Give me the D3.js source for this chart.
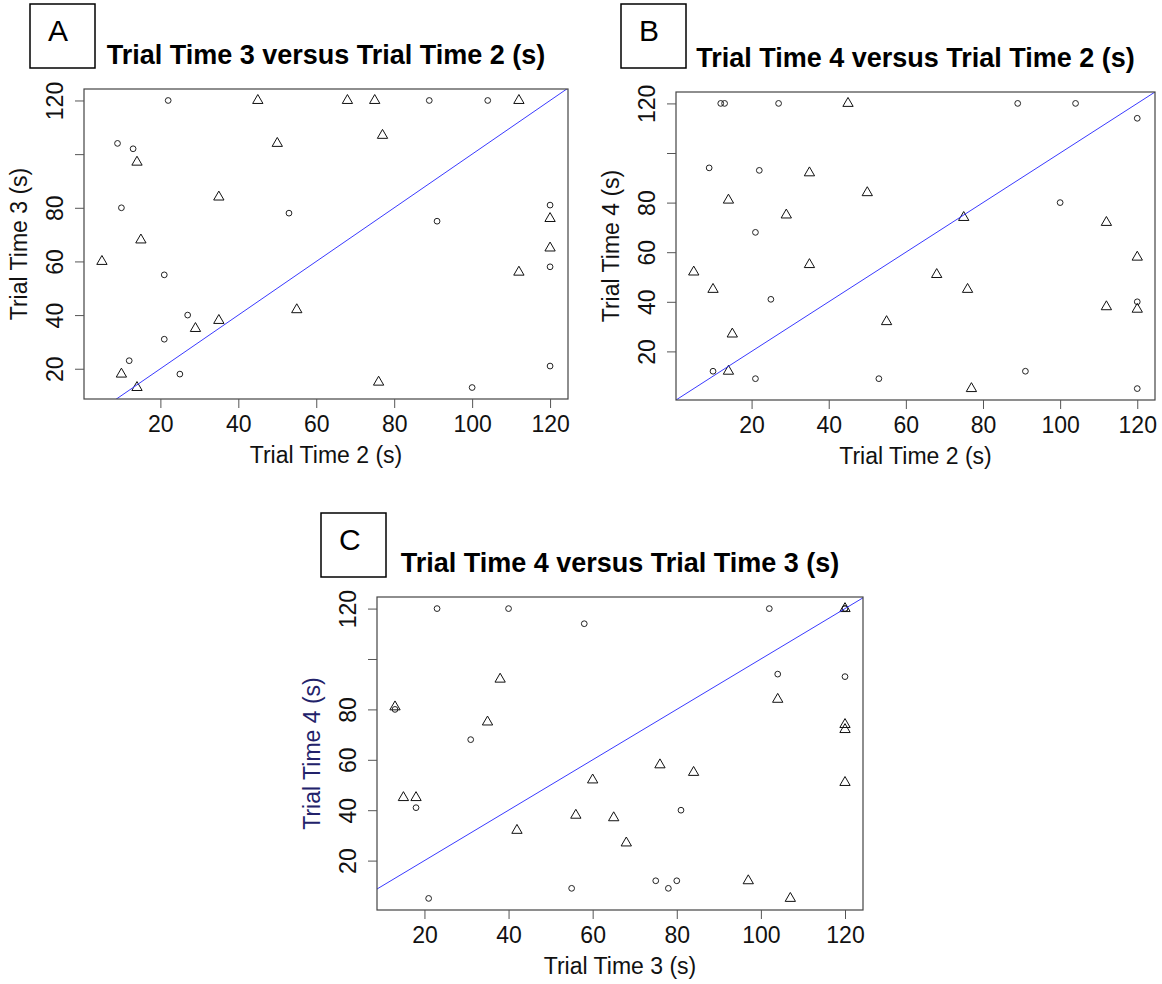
<!DOCTYPE html>
<html>
<head>
<meta charset="utf-8">
<script src="https://cdn.jsdelivr.net/npm/d3@7"></script>
<style>
  body { margin: 0; background: #fff; }
  svg { font-family: "Liberation Sans", Arial, sans-serif; }
</style>
</head>
<body>
<svg id="chart" width="1162" height="984"></svg>
<script>
// Trial times (s), one entry per subject. Group drawn with circles:
const circleTrial2 = [9, 10, 12, 13, 22, 25, 27, 53, 89, 91, 100, 104, 21, 21, 120, 120, 120];
const circleTrial3 = [104, 80, 23, 102, 120, 18, 40, 78, 120, 75, 13, 120, 31, 55, 58, 81, 21];
const circleTrial4 = [94, 12, 120, 120, 93, 41, 120, 9, 120, 12, 80, 120, 68, 9, 114, 40, 5];

// Group drawn with triangles:
const triTrial2 = [5, 10, 15, 29, 45, 50, 55, 68, 75, 76, 77, 14, 14, 35, 35, 112, 112, 120, 120];
const triTrial3 = [60, 18, 68, 35, 120, 104, 42, 120, 120, 15, 107, 13, 97, 38, 84, 120, 56, 76, 65];
const triTrial4 = [52, 45, 27, 75, 120, 84, 32, 51, 74, 45, 5, 81, 12, 92, 55, 72, 38, 58, 37];

const tickValues = [20, 40, 60, 80, 100, 120];
const yTickLabels = [20, 40, 60, 80, 120];   // "100" is dropped on the y axis (no room)

const circles = {2: circleTrial2, 3: circleTrial3, 4: circleTrial4};
const triangles = {2: triTrial2, 3: triTrial3, 4: triTrial4};

const panels = [
    {letter: "A", title: "Trial Time 3 versus Trial Time 2 (s)", xLab: "Trial Time 2 (s)", yLab: "Trial Time 3 (s)",
     xKey: 2, yKey: 3, plot: {x: 84, y: 89, w: 484, h: 310}, box: {x: 30, y: 4}, yLabColor: "#111"},
    {letter: "B", title: "Trial Time 4 versus Trial Time 2 (s)", xLab: "Trial Time 2 (s)", yLab: "Trial Time 4 (s)",
     xKey: 2, yKey: 4, plot: {x: 676, y: 92, w: 479, h: 308}, box: {x: 621, y: 4}, yLabColor: "#111"},
    {letter: "C", title: "Trial Time 4 versus Trial Time 3 (s)", xLab: "Trial Time 3 (s)", yLab: "Trial Time 4 (s)",
     xKey: 3, yKey: 4, plot: {x: 377, y: 597, w: 486, h: 313}, box: {x: 321, y: 513}, yLabColor: "#22226a"}
];

// like R's default axis range: data extent widened by 4% each side
let pad = ([lo, hi]) => [lo - 0.04 * (hi - lo), hi + 0.04 * (hi - lo)];

const svg = d3.select("#chart");
const circleSym = d3.symbol().type(d3.symbolCircle).size(26);
const triSym = d3.symbol().type(d3.symbolTriangle).size(46);

panels.forEach(p => {
    const {x: px, y: py, w, h} = p.plot;
    const g = svg.append("g");

    const xAll = circles[p.xKey].concat(triangles[p.xKey]);
    const yAll = circles[p.yKey].concat(triangles[p.yKey]);
    const x = d3.scaleLinear().domain(pad(d3.extent(xAll))).range([px, px + w]);
    const y = d3.scaleLinear().domain(pad(d3.extent(yAll))).range([py + h, py]);

    g.append("clipPath").attr("id", "clip" + p.letter)
        .append("rect").attr("x", px).attr("y", py).attr("width", w).attr("height", h);

    // points
    const circlePts = circles[p.xKey].map((v, i) => [v, circles[p.yKey][i]]);
    const triPts = triangles[p.xKey].map((v, i) => [v, triangles[p.yKey][i]]);

    g.append("g").selectAll("path")
        .data(circlePts)
        .join("path")
        .attr("d", circleSym)
        .attr("transform", d => `translate(${x(d[0])},${y(d[1])})`)
        .attr("fill", "none")
        .attr("stroke", "#222")
        .attr("stroke-width", 1);

    g.append("g").selectAll("path")
        .data(triPts)
        .join("path")
        .attr("d", triSym)
        .attr("transform", d => `translate(${x(d[0])},${y(d[1])})`)
        .attr("fill", "none")
        .attr("stroke", "#111")
        .attr("stroke-width", 1);

    // y = x reference line
    const lo = Math.min(x.domain()[0], y.domain()[0]);
    const hi = Math.max(x.domain()[1], y.domain()[1]);
    g.append("line")
        .attr("clip-path", `url(#clip${p.letter})`)
        .attr("x1", x(lo)).attr("y1", y(lo))
        .attr("x2", x(hi)).attr("y2", y(hi))
        .attr("stroke", "#3a3aff")
        .attr("stroke-width", 1);

    // frame
    g.append("rect")
        .attr("x", px).attr("y", py).attr("width", w).attr("height", h)
        .attr("fill", "none").attr("stroke", "#444").attr("stroke-width", 1.2);

    // x axis
    const xAxis = g.append("g")
        .attr("transform", `translate(0,${py + h})`)
        .call(d3.axisBottom(x).tickValues(tickValues).tickSize(9));
    xAxis.select(".domain").remove();
    xAxis.selectAll("line").attr("stroke", "#555");
    xAxis.selectAll("text")
        .attr("y", 33).attr("dy", null)
        .attr("fill", "#111")
        .style("font-size", "23px");

    // y axis, labels turned like R's las = 0
    const yAxis = g.append("g")
        .attr("transform", `translate(${px},0)`)
        .call(d3.axisLeft(y).tickValues(tickValues).tickSize(9)
            .tickFormat(d => yTickLabels.includes(d) ? d : ""));
    yAxis.select(".domain").remove();
    yAxis.selectAll("line").attr("stroke", "#555");
    yAxis.selectAll("text")
        .attr("x", null).attr("dy", null)
        .attr("text-anchor", "middle")
        .attr("transform", "translate(-21,0) rotate(-90)")
        .attr("fill", "#111")
        .style("font-size", "23px");

    // axis titles
    g.append("text")
        .attr("x", px + w / 2).attr("y", py + h + 64)
        .attr("text-anchor", "middle")
        .attr("fill", "#111")
        .style("font-size", "23px")
        .text(p.xLab);

    g.append("text")
        .attr("transform", `translate(${px - 57},${py + h / 2}) rotate(-90)`)
        .attr("text-anchor", "middle")
        .attr("fill", p.yLabColor)
        .style("font-size", "23px")
        .text(p.yLab);

    // title
    g.append("text")
        .attr("x", px + w / 2).attr("y", py - 25)
        .attr("text-anchor", "middle")
        .attr("fill", "#000")
        .style("font-size", "27px")
        .style("font-weight", "bold")
        .text(p.title);

    // panel letter box
    g.append("rect")
        .attr("x", p.box.x).attr("y", p.box.y).attr("width", 65).attr("height", 64)
        .attr("fill", "#fff").attr("stroke", "#000").attr("stroke-width", 1.5);
    g.append("text")
        .attr("x", p.box.x + 18).attr("y", p.box.y + 37)
        .attr("fill", "#000")
        .style("font-size", "30px")
        .text(p.letter);
});
</script>
</body>
</html>
